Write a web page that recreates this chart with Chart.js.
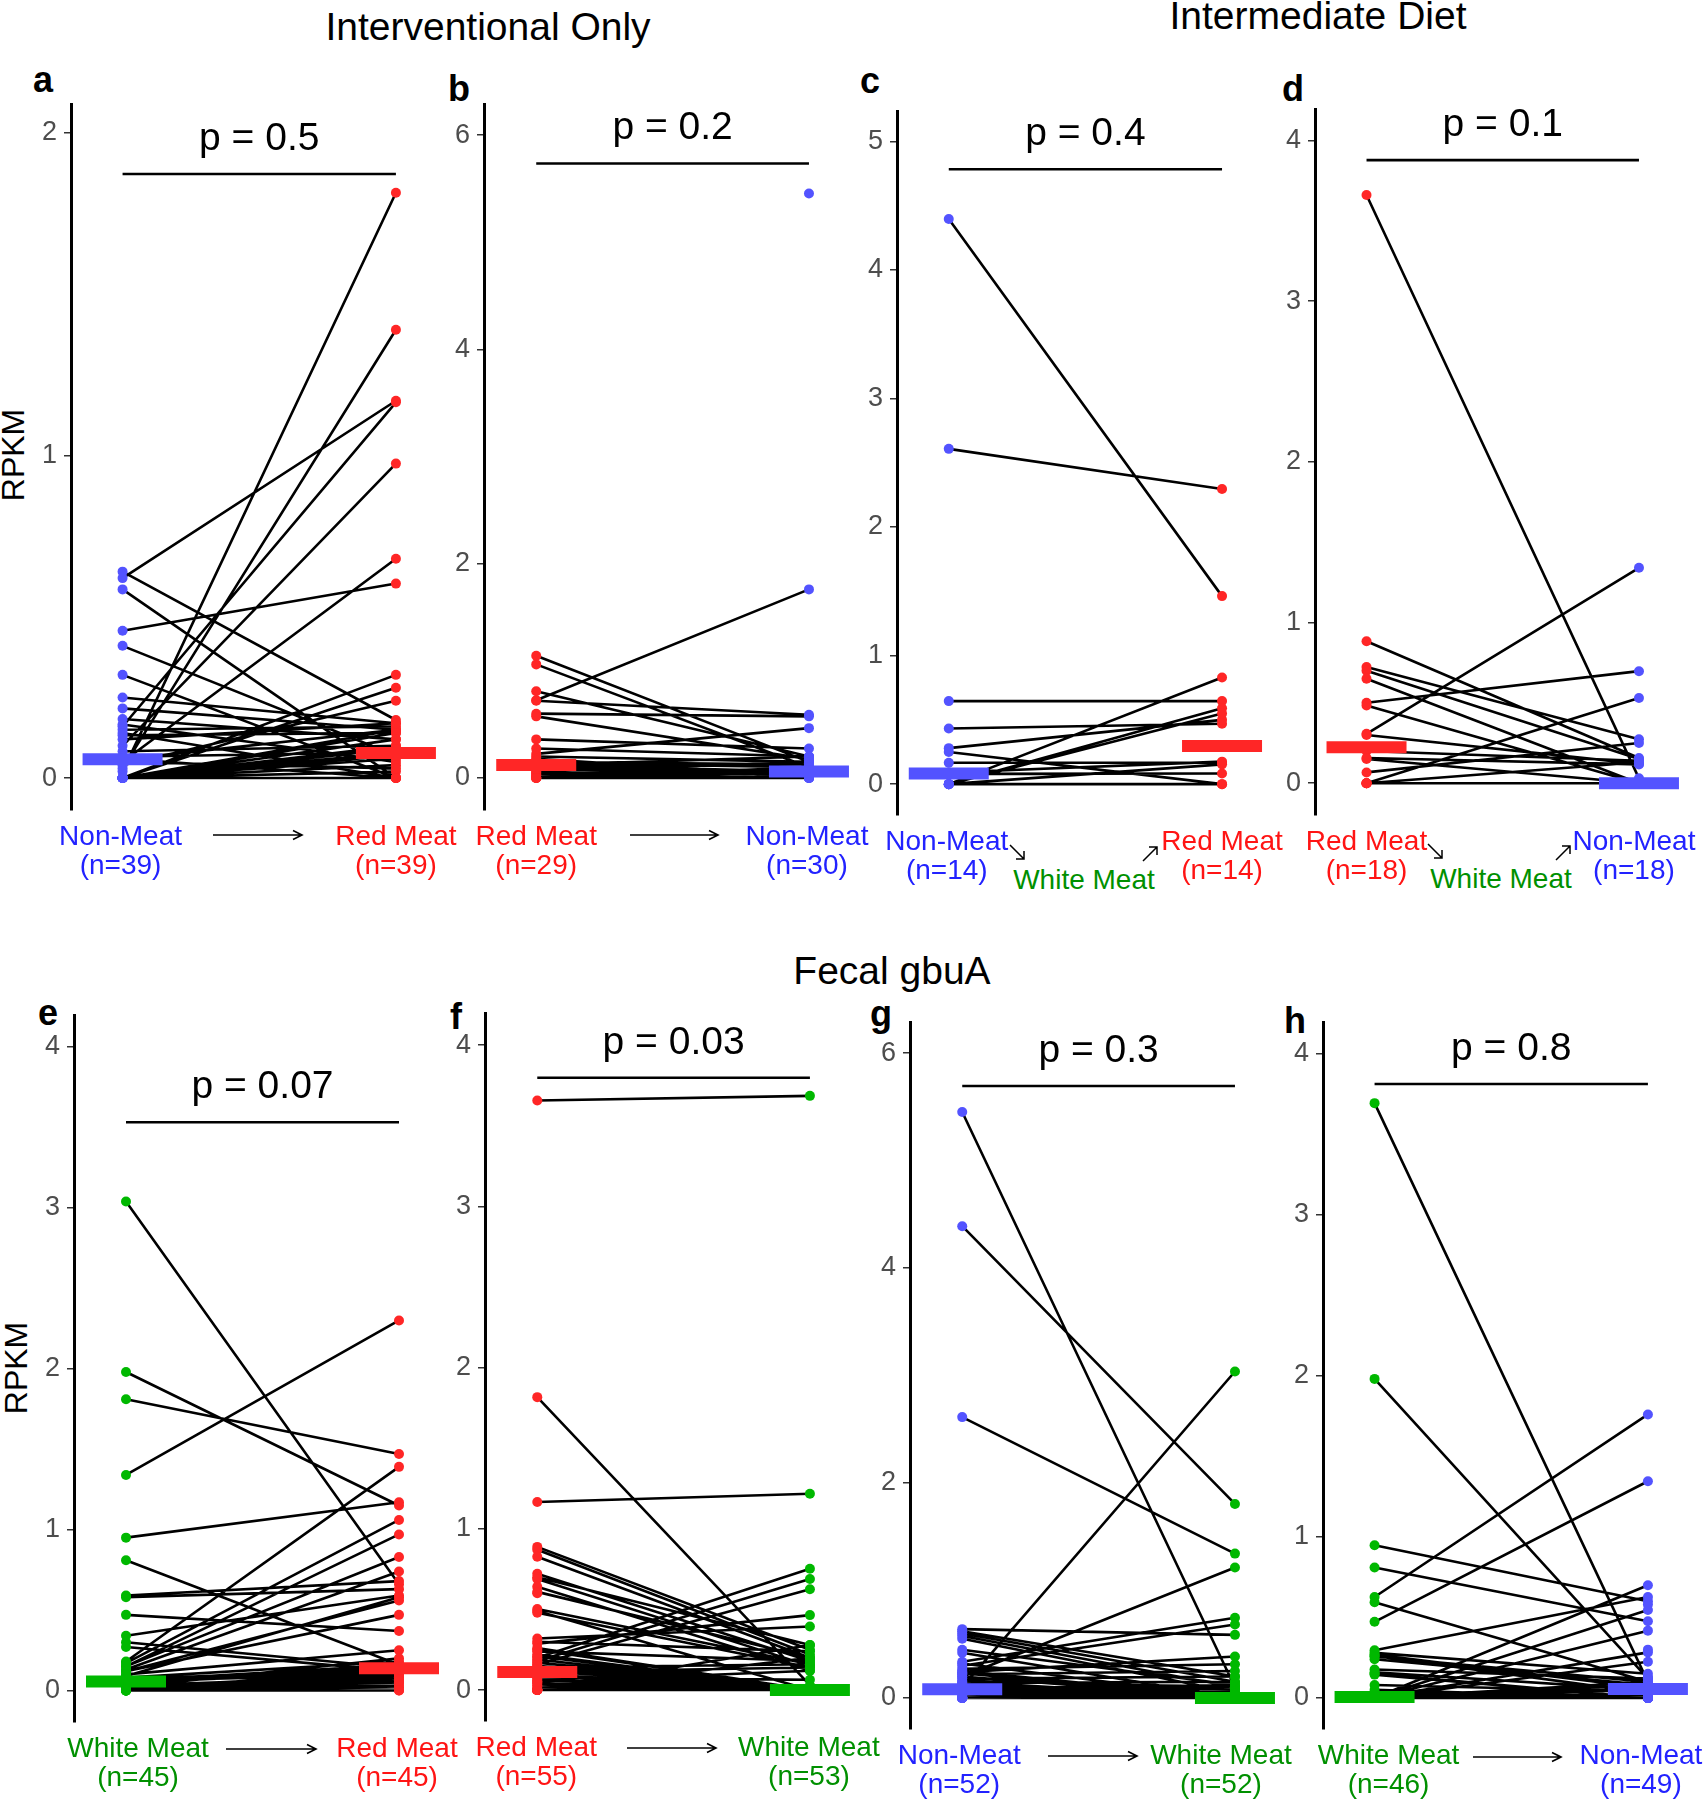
<!DOCTYPE html>
<html>
<head>
<meta charset="utf-8">
<script src="https://cdn.jsdelivr.net/npm/chart.js@4.4.0/dist/chart.umd.min.js"></script>
<style>
  body { margin: 0; width: 1705px; height: 1800px; overflow: hidden; background: #fff; position: relative;
         font-family: "Liberation Sans", Arial, Helvetica, sans-serif; }
  canvas, .txt, svg { position: absolute; }
  .txt { line-height: 1; white-space: nowrap; }
  .title { font-size: 39px; color: #000; transform: translate(-50%, -50%); }
  .letter { font-size: 36px; font-weight: bold; color: #000; }
  .ylab { font-size: 32px; color: #000; transform: translate(-50%, -50%) rotate(-90deg); }
  .mid { font-size: 28px; color: #009000; transform: translate(-50%, -50%); }
</style>
</head>
<body>

<div class="txt title" style="left:488px; top:26px">Interventional Only</div>
<div class="txt title" style="left:1318px; top:15px">Intermediate Diet</div>
<div class="txt title" style="left:892px; top:970px">Fecal gbuA</div>

<div class="txt letter" style="left:33px; top:62px">a</div>
<div class="txt letter" style="left:448px; top:71px">b</div>
<div class="txt letter" style="left:860px; top:63px">c</div>
<div class="txt letter" style="left:1282px; top:71px">d</div>
<div class="txt letter" style="left:38px; top:995px">e</div>
<div class="txt letter" style="left:450px; top:999px">f</div>
<div class="txt letter" style="left:870px; top:996px">g</div>
<div class="txt letter" style="left:1284px; top:1003px">h</div>

<div class="txt ylab" style="left:13px; top:455px">RPKM</div>
<div class="txt ylab" style="left:16px; top:1368px">RPKM</div>

<div class="txt mid" style="left:1084px; top:880px">White Meat</div>
<div class="txt mid" style="left:1501px; top:879px">White Meat</div>

<script>
// ---- data ----
const aCats = ['Non-Meat', 'Red Meat'];
const aN = [39, 39];
const aTicks = [0, 1, 2];
const aP = 'p = 0.5';
const aBracket = 1.873;
const aMedian = [0.058, 0.078];
const aLeft  = [0.02, 0.03, 0.62, 0.16, 0.10, 0.05, 0.457, 0.64, 0.585, 0.41, 0.32, 0.25, 0.216, 0.183, 0, 0, 0.04, 0.166, 0.15, 0.133, 0.083, 0.066, 0.06, 0.058, 0, 0, 0, 0, 0, 0, 0, 0, 0, 0, 0, 0, 0.14, 0.12, 0.05];
const aRight = [1.815, 1.39, 1.17, 1.165, 0.975, 0.68, 0.603, 0.18, 0, 0.07, 0, 0.17, 0.15, 0.12, 0.32, 0.28, 0.24, 0.05, 0.16, 0.14, 0.10, 0.08, 0, 0.15, 0.15, 0.14, 0.12, 0.10, 0.09, 0.078, 0.07, 0.06, 0.04, 0.02, 0, 0, 0, 0.17, 0.03];

const bCats = ['Red Meat', 'Non-Meat'];
const bN = [29, 30];
const bTicks = [0, 2, 4, 6];
const bP = 'p = 0.2';
const bBracket = 5.735;
const bMedian = [0.12, 0.06];
const bLeft  = [1.14, 1.06, 0.81, 0.725, 0.72, 0.60, 0.575, 0.36, 0.275, 0.225, 0.20, 0.15, 0.14, 0.12, 0.12, 0.10, 0.10, 0.08, 0.06, 0.05, 0.04, 0.03, 0.02, 0, 0, 0, 0, 0.18, 0.16, null];
const bRight = [0.15, 0.10, 0.20, 1.76, 0.59, 0.575, 0.175, 0.275, 0.20, 0.465, 0.15, 0.125, 0.10, 0.20, 0.06, 0.06, 0.05, 0.04, 0.15, 0.03, 0, 0.08, 0, 0.10, 0.05, 0, 0, 0.02, 0, 5.455];

const cCats = ['Non-Meat', 'Red Meat'];
const cN = [14, 14];
const cTicks = [0, 1, 2, 3, 4, 5];
const cP = 'p = 0.4';
const cBracket = 4.783;
const cMedian = [0.083, 0.296];
const cLeft  = [4.396, 2.608, 0.646, 0.433, 0.28, 0.25, 0.167, 0.09, 0.08, 0, 0, 0, 0, 0];
const cRight = [1.4625, 2.296, 0.646, 0.47, 0.50, 0, 0.167, 0.175, 0.083, 0.829, 0.59, 0.55, 0.154, 0];

const dCats = ['Red Meat', 'Non-Meat'];
const dN = [18, 18];
const dTicks = [0, 1, 2, 3, 4];
const dP = 'p = 0.1';
const dBracket = 3.877;
const dMedian = [0.223, 0];
const dLeft  = [3.66, 0.883, 0.723, 0.70, 0.65, 0.50, 0.483, 0.307, 0.30, 0.20, 0.157, 0.15, 0.067, 0, 0, 0, 0, 0];
const dRight = [0.03, 0.157, 0.273, 0.15, 0, 0.697, 0, 1.34, 0.12, 0.14, 0.117, 0, 0.25, 0.53, 0, 0, 0.13, 0];

const eCats = ['White Meat', 'Red Meat'];
const eN = [45, 45];
const eTicks = [0, 1, 2, 3, 4];
const eP = 'p = 0.07';
const eBracket = 3.532;
const eMedian = [0.055, 0.138];
const eLeft  = [3.04, 1.98, 1.81, 1.34, 0.95, 0.81, 0.59, 0.58, 0.47, 0.34, 0.30, 0.27, 0.18, 0.17, 0.15, 0.15, 0.13, 0.12, 0.12, 0.10, 0.09, 0.08, 0.07, 0.06, 0.06, 0.055, 0.05, 0.05, 0.04, 0.03, 0.03, 0.02, 0.02, 0.01, 0.01, 0, 0, 0, 0, 0, 0, 0, 0, 0, 0];
const eRight = [0.66, 1.15, 1.47, 2.30, 1.17, 0.16, 0.68, 0.63, 0.37, 0.59, 0.14, 0.12, 1.39, 1.06, 0.97, 0.83, 0.74, 0.56, 0.47, 0.25, 0.58, 0.18, 0.14, 0.16, 0.10, 0.14, 0.13, 0.12, 0.15, 0.09, 0.08, 0.20, 0.11, 0.05, 0.07, 0, 0.05, 0.03, 0.14, 0.12, 0.10, 0.02, 0.06, 0, 0.13];

const fCats = ['Red Meat', 'White Meat'];
const fN = [55, 53];
const fTicks = [0, 1, 2, 3, 4];
const fP = 'p = 0.03';
const fBracket = 3.798;
const fMedian = [0.112, 0];
const fLeft  = [3.657, 1.817, 1.167, 0.888, 0.87, 0.827, 0.721, 0.70, 0.689, 0.641, 0.609, 0.503, 0.49, 0.48, 0.32, 0.30, 0.288, 0.26, 0.24, 0.22, 0.20, 0.19, 0.18, 0.17, 0.16, 0.15, 0.14, 0.13, 0.12, 0.112, 0.10, 0.09, 0.08, 0.07, 0.06, 0.05, 0.04, 0.03, 0.02, 0, 0, 0, 0, 0, 0, 0, 0, 0, 0, 0, 0, 0.21, 0.25, 0.60, 0.05];
const fRight = [3.686, 0.03, 1.218, 0.25, 0.22, 0.20, 0.18, 0.28, 0.15, 0.12, 0.20, 0.16, 0, 0.14, 0.394, 0.24, 0.465, 0, 0.18, 0, 0.753, 0, 0.689, 0, 0.625, 0, 0.16, 0, 0, 0.14, 0, 0, 0.064, 0, 0, 0.12, 0, 0, 0, 0.28, 0.20, 0, 0, 0, 0, 0, 0, 0, 0, 0, 0, 0, 0, null, null];

const gCats = ['Non-Meat', 'White Meat'];
const gN = [52, 52];
const gTicks = [0, 2, 4, 6];
const gP = 'p = 0.3';
const gBracket = 5.693;
const gMedian = [0.082, 0];
const gLeft  = [5.452, 4.389, 2.613, 0.10, 0.20, 0.64, 0.62, 0.60, 0.577, 0.55, 0.448, 0.42, 0.337, 0.30, 0.27, 0.24, 0.22, 0.20, 0.18, 0.16, 0.15, 0.14, 0.12, 0.11, 0.10, 0.09, 0.085, 0.082, 0.08, 0.07, 0.06, 0.05, 0.05, 0.04, 0.03, 0.02, 0.01, 0, 0, 0, 0, 0, 0, 0, 0, 0, 0, 0, 0.25, 0.23, 0.32, 0.13];
const gRight = [0.10, 1.805, 1.343, 3.037, 1.213, 0.587, 0.20, 0.15, 0.10, 0.05, 0.12, 0, 0.746, 0.683, 0.313, 0.385, 0.25, 0, 0.20, 0.10, 0, 0.15, 0, 0.08, 0, 0, 0.12, 0, 0, 0.05, 0, 0, 0.10, 0, 0, 0.06, 0, 0, 0, 0, 0, 0.04, 0, 0, 0, 0, 0, 0, 0, 0, 0, 0];

const hCats = ['White Meat', 'Non-Meat'];
const hN = [46, 49];
const hTicks = [0, 1, 2, 3, 4];
const hP = 'p = 0.8';
const hBracket = 3.814;
const hMedian = [0.006, 0.055];
const hLeft  = [3.695, 1.982, 0.948, 0.81, 0.627, 0.594, 0.473, 0.296, 0.28, 0.257, 0.24, 0.177, 0.16, 0.145, 0.08, 0.05, 0.03, 0.02, 0.01, 0.27, 0.26, 0.15, 0.005, 0, 0, 0, 0, 0, 0, 0, 0, 0, 0, 0, 0, 0, 0, 0, 0, 0, 0, 0, 0, 0, 0, 0, null, null, null];
const hRight = [0.10, 0.12, 0.60, 0.476, 1.761, 0.10, 1.346, 0.627, 0.15, 0.10, 0.08, 0.12, 0.05, 0, 0.04, 0, 0, 0.02, 0, 0.06, 0.03, 0, 0.05, 0.70, 0.546, 0.418, 0.283, 0.225, 0, 0, 0.06, 0, 0.08, 0, 0, 0.055, 0, 0, 0.02, 0, 0, 0, 0.10, 0, 0, 0, 0.58, 0.30, 0.13];

// ---- colours ----
const POINT = { 'Non-Meat': '#5353ff', 'Red Meat': '#ff2626', 'White Meat': '#00b800' };
const LABEL = { 'Non-Meat': '#2222ff', 'Red Meat': '#ff1414', 'White Meat': '#009000' };
const FONT = '"Liberation Sans", Arial, Helvetica, sans-serif';

// ---- where each panel sits on the page (pixels); shift = label nudges in px ----
const layout = {
  a: { axisX: 70.5,   top: 104,  bottom: 810,  x0: 122,    x1: 395,    ymin: -0.099, ymax: 2.09,  shift: [-2, 0] },
  b: { axisX: 483.5,  top: 104,  bottom: 810,  x0: 535.7,  x1: 808.3,  ymin: -0.299, ymax: 6.29,  shift: [0, -2] },
  c: { axisX: 896.5,  top: 111,  bottom: 815,  x0: 948.3,  x1: 1221.7, ymin: -0.24,  ymax: 5.236, shift: [-2, 0] },
  d: { axisX: 1314.5, top: 109,  bottom: 815,  x0: 1366,   x1: 1638.3, ymin: -0.198, ymax: 4.195, shift: [0, -5] },
  e: { axisX: 74,     top: 1015, bottom: 1722, x0: 126,    x1: 399,    ymin: -0.196, ymax: 4.199, shift: [12, -2] },
  f: { axisX: 484.5,  top: 1013, bottom: 1721, x0: 536.7,  x1: 809,    ymin: -0.192, ymax: 4.2,   shift: [-1, -1] },
  g: { axisX: 909.5,  top: 1022, bottom: 1729, x0: 961.7,  x1: 1234.3, ymin: -0.289, ymax: 6.289, shift: [-3, -14] },
  h: { axisX: 1322.5, top: 1022, bottom: 1729, x0: 1374,   x1: 1647,   ymin: -0.193, ymax: 4.199, shift: [14, -7] }
};

const panels = {
  a: { cats: aCats, n: aN, ticks: aTicks, p: aP, bracket: aBracket, median: aMedian, left: aLeft, right: aRight },
  b: { cats: bCats, n: bN, ticks: bTicks, p: bP, bracket: bBracket, median: bMedian, left: bLeft, right: bRight },
  c: { cats: cCats, n: cN, ticks: cTicks, p: cP, bracket: cBracket, median: cMedian, left: cLeft, right: cRight },
  d: { cats: dCats, n: dN, ticks: dTicks, p: dP, bracket: dBracket, median: dMedian, left: dLeft, right: dRight },
  e: { cats: eCats, n: eN, ticks: eTicks, p: eP, bracket: eBracket, median: eMedian, left: eLeft, right: eRight },
  f: { cats: fCats, n: fN, ticks: fTicks, p: fP, bracket: fBracket, median: fMedian, left: fLeft, right: fRight },
  g: { cats: gCats, n: gN, ticks: gTicks, p: gP, bracket: gBracket, median: gMedian, left: gLeft, right: gRight },
  h: { cats: hCats, n: hN, ticks: hTicks, p: hP, bracket: hBracket, median: hMedian, left: hLeft, right: hRight }
};

Chart.defaults.font.family = FONT;
Chart.defaults.animation = false;

// p-value text above the bracket
const pLabel = {
  id: 'pLabel',
  afterDatasetsDraw(chart, args, opts) {
    const { ctx, scales: { x, y } } = chart;
    ctx.save();
    ctx.font = '39px ' + FONT;
    ctx.fillStyle = '#000';
    ctx.textAlign = 'center';
    ctx.textBaseline = 'alphabetic';
    ctx.fillText(opts.text, x.getPixelForValue(0.5), y.getPixelForValue(opts.at) - 24);
    ctx.restore();
  }
};

function drawPanel(d, lay) {
  const yAxisW = 60, padTop = 30, xAxisH = 80, padRight = 50;
  const areaW = (lay.x1 - lay.axisX) + 62;
  const unit = lay.x1 - lay.x0;
  const xmin = (lay.axisX - lay.x0) / unit;
  const xmax = xmin + areaW / unit;

  const cv = document.createElement('canvas');
  cv.width = Math.round(yAxisW + areaW + padRight);
  cv.height = padTop + (lay.bottom - lay.top) + xAxisH;
  cv.style.left = (lay.axisX - yAxisW) + 'px';
  cv.style.top = (lay.top - padTop) + 'px';
  document.body.appendChild(cv);

  const pairs = [];
  d.left.forEach((l, i) => {
    const r = d.right[i];
    if (l == null || r == null) return;
    pairs.push({ x: 0, y: l }, { x: 1, y: r }, { x: 0.5, y: null });
  });
  const leftPts = d.left.filter(v => v != null).map(v => ({ x: 0, y: v }));
  const rightPts = d.right.filter(v => v != null).map(v => ({ x: 1, y: v }));

  new Chart(cv, {
    type: 'scatter',
    data: {
      datasets: [
        { data: [{ x: 0, y: d.median[0] }], pointStyle: 'line', pointRadius: 40, pointBorderWidth: 12,
          pointBorderColor: POINT[d.cats[0]], order: 0, clip: false },
        { data: [{ x: 1, y: d.median[1] }], pointStyle: 'line', pointRadius: 40, pointBorderWidth: 12,
          pointBorderColor: POINT[d.cats[1]], order: 0, clip: false },
        { data: leftPts, pointRadius: 5, pointBorderWidth: 0, pointBackgroundColor: POINT[d.cats[0]], order: 1, clip: false },
        { data: rightPts, pointRadius: 5, pointBorderWidth: 0, pointBackgroundColor: POINT[d.cats[1]], order: 1, clip: false },
        { data: pairs, showLine: true, spanGaps: false, borderColor: '#000', borderWidth: 2.6, pointRadius: 0, order: 2, clip: false },
        { data: [{ x: 0, y: d.bracket }, { x: 1, y: d.bracket }], showLine: true, borderColor: '#000',
          borderWidth: 2.6, pointRadius: 0, order: 2, clip: false }
      ]
    },
    options: {
      responsive: false,
      maintainAspectRatio: false,
      events: [],
      layout: { autoPadding: false, padding: { top: padTop, right: padRight, bottom: 0, left: 0 } },
      plugins: { legend: { display: false }, tooltip: { enabled: false }, pLabel: { text: d.p, at: d.bracket } },
      scales: {
        x: {
          type: 'linear', position: 'bottom', min: xmin, max: xmax,
          afterBuildTicks: s => { s.ticks = [0, 1].map(i => ({ value: i + lay.shift[i] / unit })); },
          afterFit: s => { s.height = xAxisH; },
          grid: { display: false },
          border: { display: false },
          ticks: {
            autoSkip: false, maxRotation: 0, minRotation: 0, padding: 5,
            font: { size: 28, lineHeight: 1.02 },
            color: ctx => LABEL[d.cats[ctx.index]],
            callback: (v, i) => [d.cats[i], '(n=' + d.n[i] + ')']
          }
        },
        y: {
          min: lay.ymin, max: lay.ymax,
          afterBuildTicks: s => { s.ticks = d.ticks.map(v => ({ value: v })); },
          afterFit: s => { s.width = yAxisW; },
          grid: { drawOnChartArea: false, drawTicks: true, tickLength: 7, color: '#333', lineWidth: 1.5 },
          border: { display: true, color: '#000', width: 3 },
          ticks: { padding: 7, color: '#4d4d4d', font: { size: 27 }, callback: v => String(v) }
        }
      }
    },
    plugins: [pLabel]
  });
}

Object.keys(panels).forEach(k => drawPanel(panels[k], layout[k]));

// arrows between the diet labels
function longArrow(x1, x2, y) {
  const w = x2 - x1;
  document.body.insertAdjacentHTML('beforeend',
    `<svg style="left:${x1}px; top:${y - 8}px" width="${w + 2}" height="16">
       <path d="M0 8 H${w} M${w - 9} 3.5 L${w} 8 L${w - 9} 12.5" stroke="#000" stroke-width="1.6" fill="none"/>
     </svg>`);
}
function diagArrow(x, y, up) {
  const path = up ? 'M1 15 L15 1 M7 1 H15 V9' : 'M1 1 L15 15 M7 15 H15 V7';
  document.body.insertAdjacentHTML('beforeend',
    `<svg style="left:${x - 8}px; top:${y - 8}px" width="17" height="17">
       <path d="${path}" stroke="#000" stroke-width="1.5" fill="none"/>
     </svg>`);
}
longArrow(213, 302, 835);
longArrow(630, 718, 835);
longArrow(226, 316, 1749);
longArrow(627, 716, 1748);
longArrow(1048, 1137, 1756);
longArrow(1473, 1561, 1757);
diagArrow(1017, 852, false);
diagArrow(1150, 854, true);
diagArrow(1435, 851, false);
diagArrow(1563, 853, true);
</script>
</body>
</html>
